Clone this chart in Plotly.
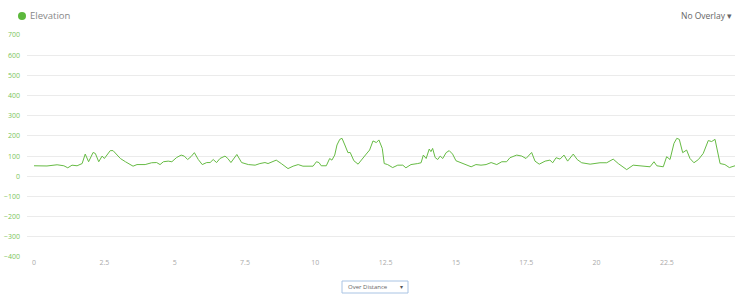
import plotly.graph_objects as go

distance_km = [0.00, 0.46, 0.82, 1.06, 1.20, 1.35, 1.53, 1.71, 1.82, 1.94, 2.10, 2.18, 2.30, 2.42, 2.50,
               2.60, 2.71, 2.81, 2.93, 3.07, 3.25, 3.42, 3.52, 3.66, 3.84, 3.95, 4.18, 4.36, 4.48, 4.60,
               4.77, 4.90, 5.07, 5.23, 5.34, 5.46, 5.58, 5.70, 5.84, 5.98, 6.14, 6.26, 6.37, 6.49, 6.61,
               6.79, 6.89, 7.00, 7.21, 7.38, 7.62, 7.86, 8.03, 8.21, 8.32, 8.61, 8.79, 9.03, 9.21, 9.39,
               9.56, 9.80, 9.92, 10.04, 10.13, 10.21, 10.39, 10.51, 10.59, 10.69, 10.77, 10.87, 10.95,
               11.05, 11.16, 11.24, 11.37, 11.52, 11.67, 11.81, 11.93, 12.05, 12.17, 12.26, 12.38, 12.45,
               12.57, 12.75, 12.93, 13.11, 13.22, 13.40, 13.64, 13.76, 13.84, 13.94, 14.05, 14.11, 14.17,
               14.26, 14.35, 14.44, 14.53, 14.65, 14.76, 14.88, 15.00, 15.18, 15.36, 15.54, 15.71, 15.89,
               16.07, 16.25, 16.45, 16.63, 16.80, 16.92, 17.16, 17.34, 17.49, 17.57, 17.69, 17.81, 17.96,
               18.17, 18.34, 18.44, 18.56, 18.70, 18.84, 18.97, 19.17, 19.31, 19.47, 19.77, 20.12, 20.36,
               20.59, 20.77, 21.07, 21.30, 21.54, 21.90, 22.04, 22.14, 22.37, 22.49, 22.61, 22.75, 22.85,
               22.94, 23.06, 23.20, 23.32, 23.46, 23.62, 23.79, 23.97, 24.09, 24.21, 24.39, 24.56, 24.72,
               24.92]

elevation_m = [52, 51, 57, 52, 42, 55, 52, 63, 110, 72, 118, 113, 72, 100, 88,
               105, 127, 127, 110, 88, 72, 58, 50, 58, 58, 58, 67, 68, 58, 72,
               75, 72, 93, 105, 100, 83, 97, 117, 83, 58, 68, 68, 83, 68, 88,
               100, 88, 68, 108, 68, 58, 55, 63, 68, 63, 80, 63, 38, 50, 58,
               50, 52, 50, 72, 68, 52, 52, 88, 80, 105, 155, 183, 188,
               155, 117, 118, 77, 60, 83, 110, 130, 175, 167, 180, 138, 63,
               58, 43, 55, 55, 42, 58, 63, 67, 105, 88, 135, 122, 138,
               93, 83, 100, 88, 117, 127, 110, 77, 68, 58, 47, 58, 55,
               58, 68, 58, 72, 72, 92, 105, 100, 88, 100, 118, 75, 60,
               75, 80, 67, 92, 85, 105, 75, 110, 83, 67, 60, 67, 67,
               85, 63, 33, 55, 52, 47, 72, 52, 47, 97, 83, 163, 188,
               183, 117, 130, 88, 67, 83, 113, 177, 172, 183, 63, 58, 43,
               52]

x_ticks = [0, 2.5, 5, 7.5, 10, 12.5, 15, 17.5, 20, 22.5]
x_tick_labels = ["0", "2.5", "5", "7.5", "10", "12.5", "15", "17.5", "20", "22.5"]
y_ticks = [700, 600, 500, 400, 300, 200, 100, 0, -100, -200, -300, -400]

W, H = 740, 301
L, R, T, B = 27, 5, 35, 44
pw, ph = W - L - R, H - T - B


def px(x):
    return (x - L) / pw


def py(y):
    return (H - B - y) / ph


GREEN = "#66bb44"

fig = go.Figure()
fig.add_trace(go.Scatter(x=distance_km, y=elevation_m, mode="lines",
                         line=dict(color=GREEN, width=1), name="Elevation",
                         showlegend=False, hoverinfo="x+y"))

fig.update_layout(
    width=W, height=H,
    margin=dict(l=L, r=R, t=T, b=B),
    paper_bgcolor="white", plot_bgcolor="white",
    font=dict(family="Open Sans, sans-serif"),
    xaxis=dict(range=[-0.25, 24.92], tickvals=x_ticks, ticktext=x_tick_labels,
               showgrid=False, zeroline=False, showline=False,
               tickfont=dict(size=7, color="#aaaaaa"), ticks="", ticklen=0),
    yaxis=dict(range=[-400, 700], tickvals=y_ticks, showgrid=True,
               gridcolor="#ebebeb", gridwidth=1, zeroline=False, showline=False,
               tickfont=dict(size=7, color="#7cc45a"), ticks="", ticklabelstandoff=6),
    shapes=[
        dict(type="circle", xref="paper", yref="paper",
             x0=px(18), x1=px(26), y0=py(20), y1=py(12),
             fillcolor="#5cb83c", line=dict(width=0)),
        dict(type="rect", xref="paper", yref="paper",
             x0=px(342), x1=px(408), y0=py(293), y1=py(281),
             fillcolor="white", line=dict(color="#a9c4e4", width=1)),
    ],
    annotations=[
        dict(text="Elevation", xref="paper", yref="paper", x=px(28), y=py(16),
             xanchor="left", yanchor="middle", showarrow=False,
             font=dict(size=9.5, color="#888888")),
        dict(text="No Overlay ▾", xref="paper", yref="paper", x=px(734), y=py(16),
             xanchor="right", yanchor="middle", showarrow=False,
             font=dict(size=8.5, color="#666666")),
        dict(text="Over Distance", xref="paper", yref="paper", x=px(346), y=py(287),
             xanchor="left", yanchor="middle", showarrow=False,
             font=dict(size=6, color="#666666")),
        dict(text="▾", xref="paper", yref="paper", x=px(405), y=py(287),
             xanchor="right", yanchor="middle", showarrow=False,
             font=dict(size=6, color="#555555")),
    ],
)

fig.write_html("out.html")
